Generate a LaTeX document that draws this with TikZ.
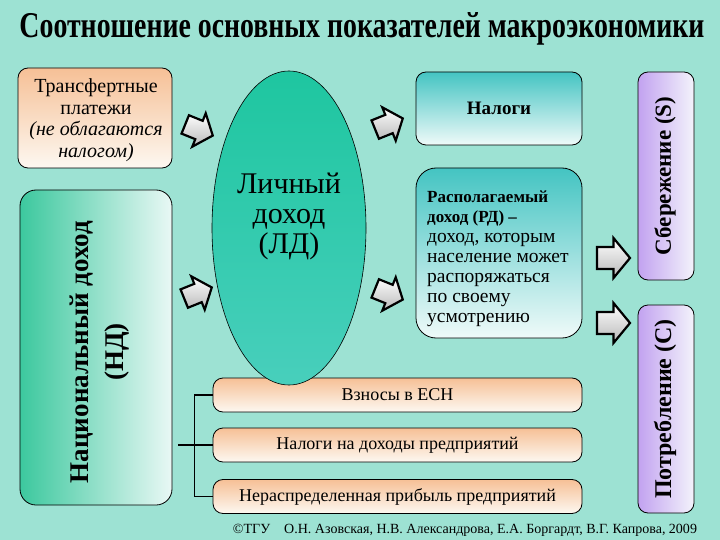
\documentclass[tikz,border=0pt]{standalone}
\usepackage{fontspec}
\setmainfont{Liberation Serif}
\usetikzlibrary{shapes.geometric}
\definecolor{bg}{HTML}{9DE2D3}
\definecolor{peach}{HTML}{F6C096}
\definecolor{peachlow}{HTML}{FDF8F1}
\definecolor{tealtop}{HTML}{44C4C2}
\definecolor{teallow}{HTML}{EFFAF9}
\definecolor{purp}{HTML}{C2A2F0}
\definecolor{purplow}{HTML}{F3F3FB}
\definecolor{ndleft}{HTML}{3CC89E}
\definecolor{ndright}{HTML}{E9F8F5}
\definecolor{ellt}{HTML}{1EC6A0}
\definecolor{ellb}{HTML}{48CFBC}
\tikzset{
  boxbase/.style={draw=black, line width=0.8pt, inner sep=0pt, rounded corners=10pt},
  peachbox/.style={boxbase, top color=peach, bottom color=peachlow},
  tealbox/.style={boxbase, top color=tealtop, bottom color=teallow},
  purpbox/.style={boxbase, left color=purp, right color=purplow},
  ndbox/.style={boxbase, left color=ndleft, right color=ndright, rounded corners=16pt},
  arrowpath/.style={draw=black, line width=2.2pt, line join=miter, top color=white, bottom color=gray!55},
  barrow/.pic={
    \path[arrowpath] (-16.5,-11) -- (0,-11) -- (0,-20) -- (16.5,0) -- (0,20) -- (0,11) -- (-16.5,11) -- cycle;
  },
  bracket/.style={draw=black, line width=1.6pt}
}
\begin{document}
\begin{tikzpicture}[x=1pt,y=-1pt, every node/.style={font=\rmfamily}]
\useasboundingbox (0,0) rectangle (720,540);
\fill[bg] (0,0) rectangle (720,540);

% title
\node[anchor=base, inner sep=0pt] (title) at (362,38) {\resizebox{685pt}{25pt}{\bfseries Соотношение основных показателей макроэкономики}};

% transfer payments
\node[peachbox, minimum width=154pt, minimum height=100pt] (transfer) at (95,118) {};
\node[align=center, inner sep=0pt, font=\rmfamily\fontsize{20pt}{21.5pt}\selectfont] (transtext) at (96,120)
  {Трансфертные\\платежи\\{\itshape (не облагаются}\\{\itshape налогом)}};

% national income
\node[ndbox, minimum width=152pt, minimum height=315pt] (nd) at (96,347.5) {};
\node[rotate=90, align=center, inner sep=0pt, font=\rmfamily\bfseries\fontsize{27pt}{35pt}\selectfont] (ndtext) at (100,352)
  {Национальный доход\\(НД)};

% bracket lines
\coordinate (brk) at (178,445);
\draw[bracket] (brk) -- (195,445);

% enterprise boxes
\node[peachbox, minimum width=369pt, minimum height=34pt, font=\rmfamily\fontsize{18pt}{20pt}\selectfont] (esn1) at (397.5,395) {Взносы в ЕСН};
\node[peachbox, minimum width=369pt, minimum height=34pt, font=\rmfamily\fontsize{18pt}{20pt}\selectfont] (esn2) at (397.5,445) {Налоги на доходы предприятий};
\node[peachbox, minimum width=369pt, minimum height=34pt, font=\rmfamily\fontsize{18pt}{20pt}\selectfont] (esn3) at (397.5,496.5) {Нераспределенная прибыль предприятий};
\draw[bracket] (esn1.west) -- ++(-18,0) |- (esn3.west);
\draw[bracket] (esn2.west) -- (195,445);

% personal income ellipse
\node[ellipse, draw=black, line width=0.6pt, top color=ellt, bottom color=ellb, minimum width=154pt, minimum height=314pt, inner sep=0pt] (ld) at (289,228) {};
\node[align=center, inner sep=0pt, font=\rmfamily\fontsize{30pt}{30pt}\selectfont] (ldtext) at (289,216)
  {Личный\\доход\\(ЛД)};

% taxes
\node[tealbox, minimum width=166pt, minimum height=73pt, font=\rmfamily\bfseries\fontsize{19pt}{20pt}\selectfont] (taxes) at (499,108.5) {Налоги};

% disposable income
\node[tealbox, rounded corners=20pt, minimum width=166pt, minimum height=170pt] (rd) at (499,253) {};
\node[anchor=west, align=left, inner sep=0pt, font=\rmfamily\fontsize{19.5pt}{20pt}\selectfont] (rdtext) at (427,259)
  {{\bfseries\fontsize{17pt}{20pt}\selectfont Располагаемый}\\
   {\bfseries\fontsize{17pt}{20pt}\selectfont доход (РД) –}\\
   доход, которым\\
   население может\\
   распоряжаться\\
   по своему\\
   усмотрению};

% saving and consumption
\node[purpbox, minimum width=56pt, minimum height=208pt] (saving) at (666,176) {};
\node[rotate=90, inner sep=0pt, font=\rmfamily\bfseries\fontsize{23pt}{24pt}\selectfont] (savtext) at (665,176) {Сбережение (S)};
\node[purpbox, minimum width=56pt, minimum height=208pt] (cons) at (666,409) {};
\node[rotate=90, inner sep=0pt, font=\rmfamily\bfseries\fontsize{24pt}{24pt}\selectfont] (constext) at (665,409) {Потребление (С)};

% block arrows
\pic[rotate=-22, scale=0.9] at (199,130) {barrow};
\pic[rotate=22, scale=0.9] at (198,293) {barrow};
\pic[rotate=22, scale=0.9] at (389,124) {barrow};
\pic[rotate=-22, scale=0.9] at (389,294) {barrow};
\pic at (613.5,258) {barrow};
\pic at (613.5,323) {barrow};

% footer
\node[anchor=base, inner sep=0pt] (footer) at (465,533) {\resizebox{464pt}{!}{\fontsize{14pt}{14pt}\selectfont ©ТГУ\quad О.Н. Азовская, Н.В. Александрова, Е.А. Боргардт, В.Г. Капрова, 2009}};
\end{tikzpicture}
\end{document}
